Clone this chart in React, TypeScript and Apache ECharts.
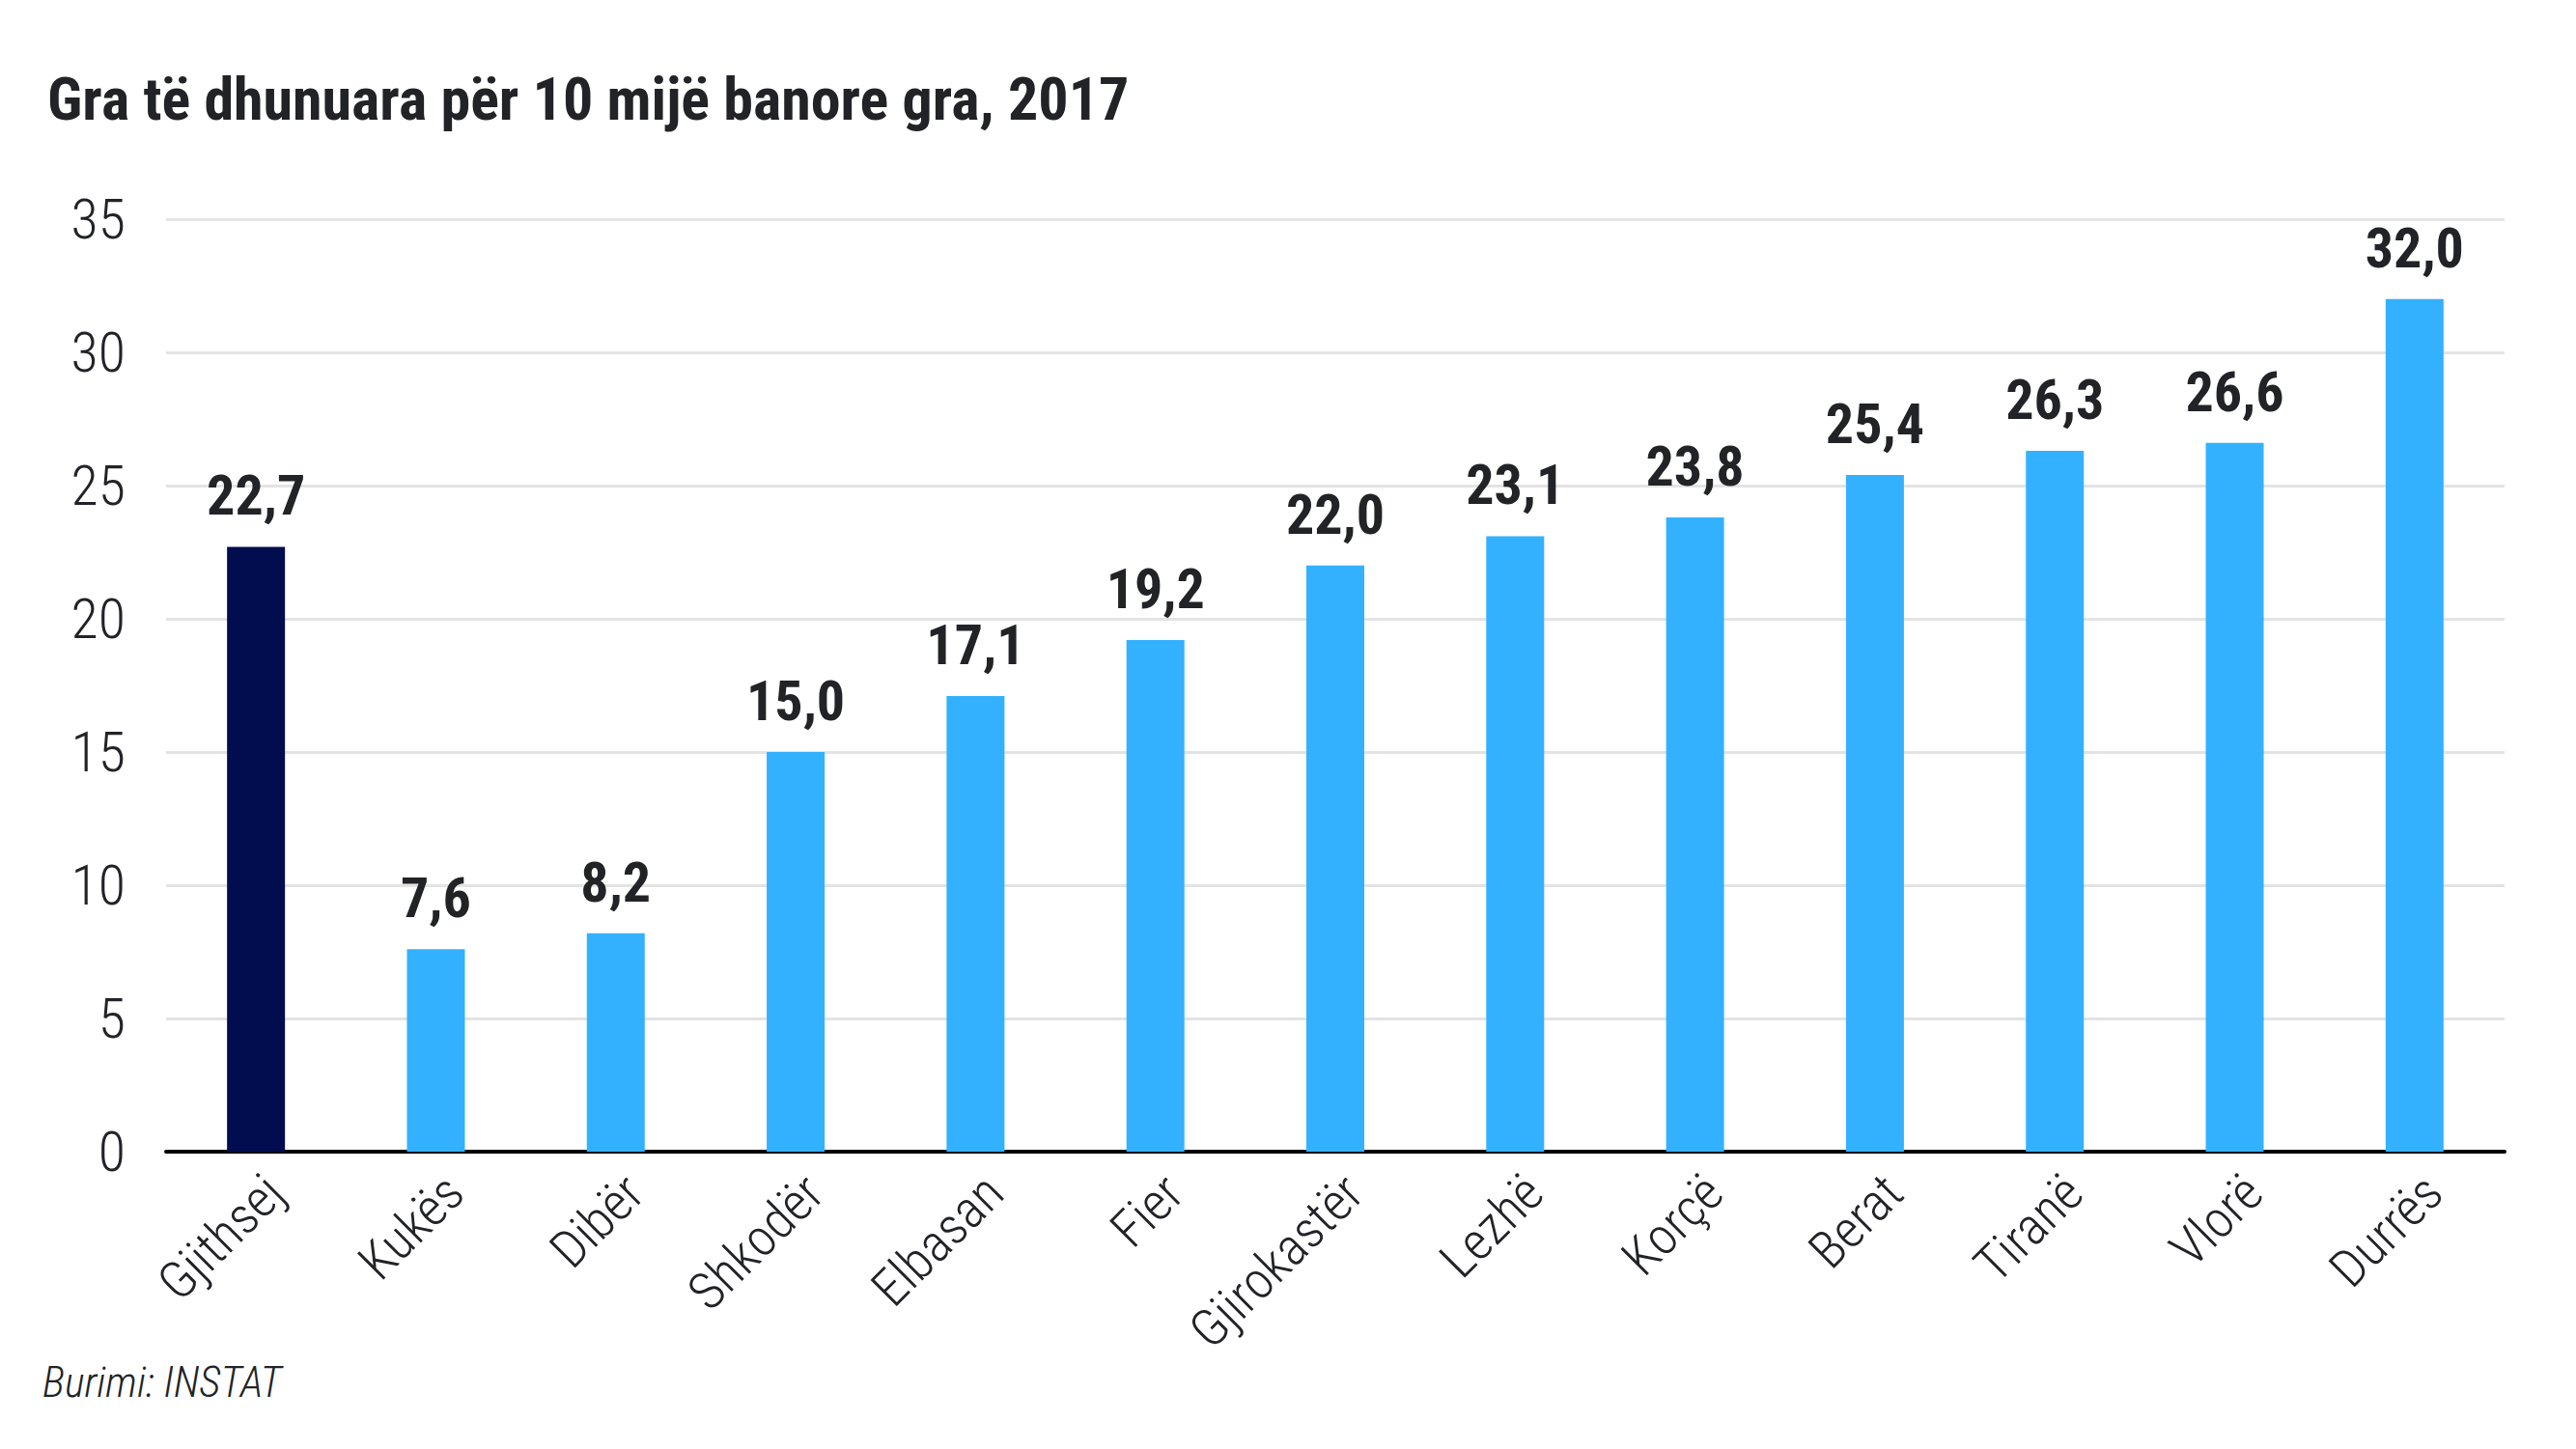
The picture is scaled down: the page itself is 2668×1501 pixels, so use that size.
import React, { useEffect, useRef } from "react";
import * as echarts from "echarts";

const categories = ["Gjithsej", "Kukës", "Dibër", "Shkodër", "Elbasan", "Fier", "Gjirokastër", "Lezhë", "Korçë", "Berat", "Tiranë", "Vlorë", "Durrës"];
const values = [22.7, 7.6, 8.2, 15.0, 17.1, 19.2, 22.0, 23.1, 23.8, 25.4, 26.3, 26.6, 32.0];
const yTicks = { min: 0, max: 35, interval: 5 };
const titleText = "Gra të dhunuara për 10 mijë banore gra, 2017";
const sourceText = "Burimi: INSTAT";

const FONT = "'Roboto Condensed', 'Liberation Sans Narrow', 'DejaVu Sans Condensed', sans-serif";
const TEXT = "#222327";
const HIGHLIGHT = "#010D4F";
const BAR = "#33B1FF";

export default function App() {
  const ref = useRef<HTMLDivElement>(null);
  useEffect(() => {
    if (!ref.current) return;
    const chart = echarts.init(ref.current, null, { renderer: "svg" });
    chart.setOption({
      animation: false,
      backgroundColor: "#ffffff",
      title: {
        text: titleText,
        left: 44,
        top: 66,
        textStyle: { fontFamily: FONT, fontWeight: "bold", fontSize: 62, color: TEXT },
      },
      graphic: [
        {
          type: "text",
          left: 44,
          top: 1410,
          style: { text: sourceText, font: `italic 300 44px ${FONT}`, fill: TEXT },
        },
      ],
      grid: { left: 172, right: 74, top: 227, bottom: 308, containLabel: false },
      xAxis: {
        type: "category",
        data: categories,
        axisLine: { show: true, lineStyle: { color: "#000000", width: 4 } },
        axisTick: { show: false },
        axisLabel: {
          rotate: 45,
          fontFamily: FONT,
          fontWeight: 300,
          fontSize: 54,
          color: TEXT,
          margin: 14,
          interval: 0,
          verticalAlign: "top",
        },
      },
      yAxis: {
        type: "value",
        min: yTicks.min,
        max: yTicks.max,
        interval: yTicks.interval,
        axisLine: { show: false },
        axisTick: { show: false },
        axisLabel: { fontFamily: FONT, fontWeight: 300, fontSize: 58, color: TEXT, margin: 42 },
        splitLine: { show: true, lineStyle: { color: "#e3e3e3", width: 3 } },
      },
      series: [
        {
          type: "bar",
          barWidth: 60,
          data: values.map((v, i) => ({ value: v, itemStyle: { color: i === 0 ? HIGHLIGHT : BAR } })),
          label: {
            show: true,
            position: "top",
            distance: 24,
            fontFamily: FONT,
            fontWeight: "bold",
            fontSize: 58,
            color: TEXT,
            formatter: (p: any) => Number(p.value).toFixed(1).replace(".", ","),
          },
        },
      ],
    });
    return () => chart.dispose();
  }, []);
  return <div ref={ref} style={{ position: "fixed", left: 0, top: 0, width: "100vw", height: "100vh" }} />;
}
